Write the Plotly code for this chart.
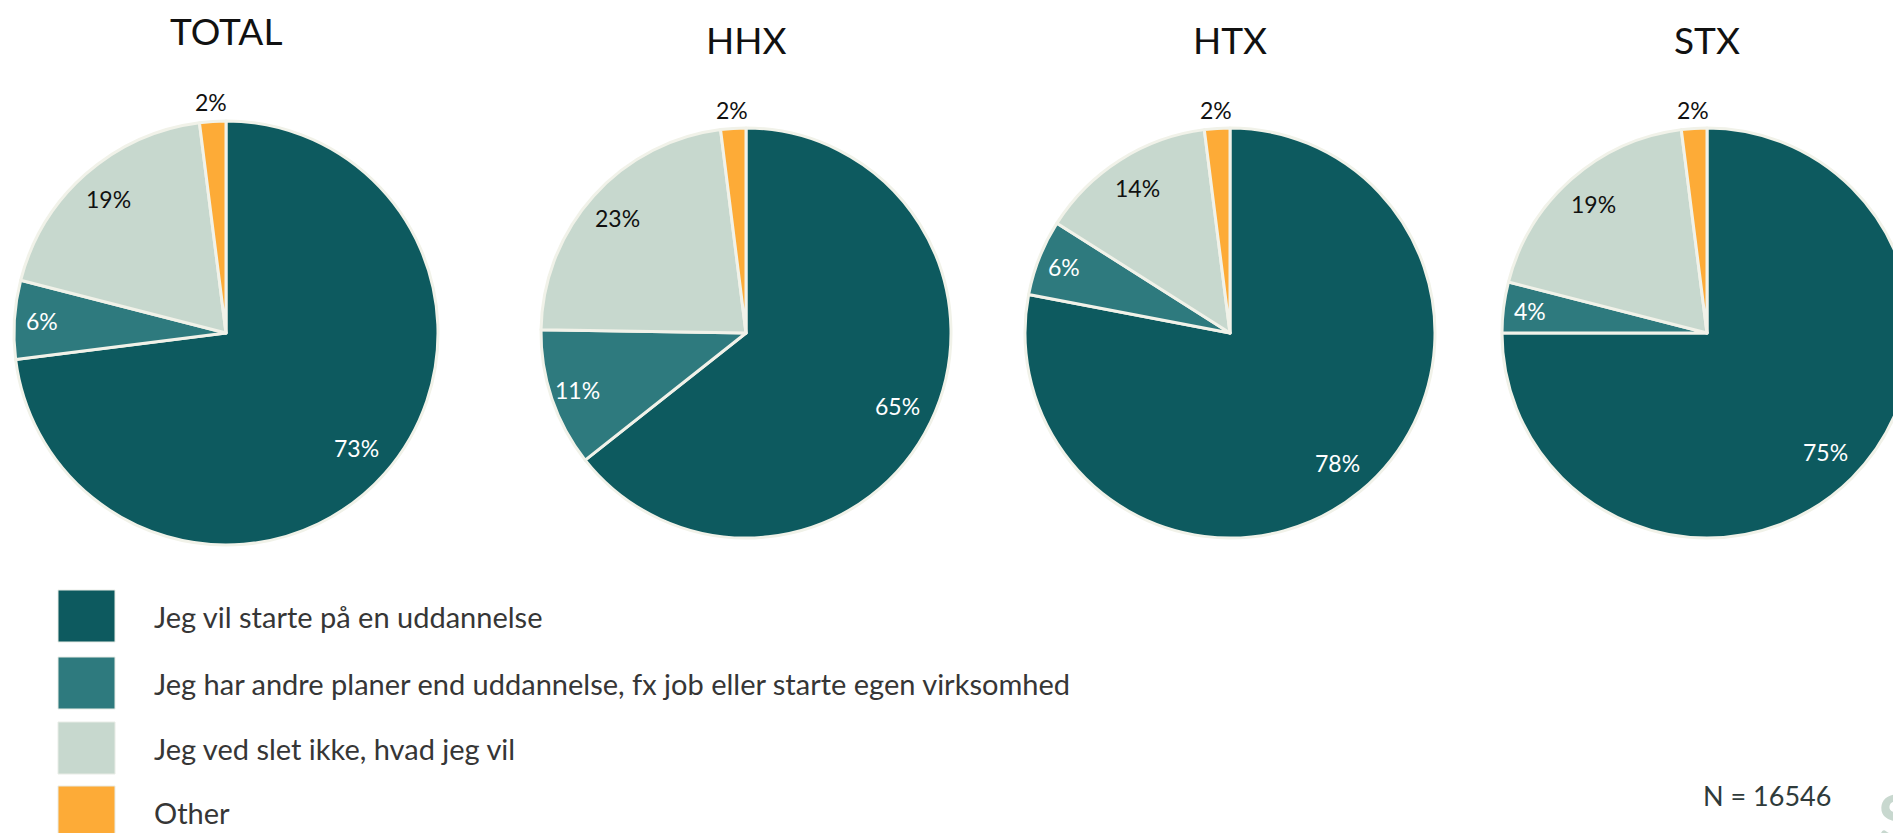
import math
import plotly.graph_objects as go

## Data
categories = [
    "Jeg vil starte på en uddannelse",
    "Jeg har andre planer end uddannelse, fx job eller starte egen virksomhed",
    "Jeg ved slet ikke, hvad jeg vil",
    "Other",
]
groups = ["TOTAL", "HHX", "HTX", "STX"]
total = [73, 6, 19, 2]
hhx = [65, 11, 23, 2]
htx = [78, 6, 14, 2]
stx = [75, 4, 19, 2]
n_text = "N = 16546"

colors = ["#0d5a5f", "#2e7a7e", "#c7d8ce", "#fdab37"]
label_colors = ["white", "white", "#111111", "#111111"]
label_dist = [0.82, 0.87, 0.84, 1.09]  # fraction of radius where the % sits
edge = "#f1f2e9"

## Layout (pixels)
W, H = 1920, 833
centers = [(226, 333), (746, 333), (1230, 333), (1707, 333)]
radii = [212, 205, 205, 205]
title_y = [30, 40, 40, 40]
font = "Lato"

fig = go.Figure()

for name, vals, (cx, cy), r in zip(groups, [total, hhx, htx, stx], centers, radii):
    fig.add_trace(go.Pie(
        labels=categories,
        values=vals,
        textinfo="none",
        sort=False,
        direction="clockwise",
        rotation=0,
        marker=dict(colors=colors, line=dict(color=edge, width=3)),
        domain=dict(x=[(cx - r) / W, (cx + r) / W], y=[1 - (cy + r) / H, 1 - (cy - r) / H]),
        name=name,
        hoverinfo="label+percent",
        showlegend=False,
    ))

    # percentage labels on the slice bisectors
    tot = sum(vals)
    cum = 0
    for v, col, k in zip(vals, label_colors, label_dist):
        theta = 2 * math.pi * (cum + v / 2) / tot
        cum += v
        px = cx + k * r * math.sin(theta)
        py = cy - k * r * math.cos(theta)
        fig.add_annotation(x=px / W, y=1 - py / H, xref="paper", yref="paper",
                           text=f"{v}%", showarrow=False, xanchor="center", yanchor="middle",
                           font=dict(family=font, size=23, color=col))

# group titles
for name, (cx, cy), ty in zip(groups, centers, title_y):
    fig.add_annotation(x=cx / W, y=1 - ty / H, xref="paper", yref="paper",
                       text=name, showarrow=False, xanchor="center", yanchor="middle",
                       font=dict(family=font, size=37, color="#111111"))

# legend drawn by hand (big swatches)
sw_x0, sw_x1 = 58, 115
sw_top = [590, 657, 722, 786]
sw_h = 52
for cat, col, top in zip(categories, colors, sw_top):
    fig.add_shape(type="rect", xref="paper", yref="paper",
                  x0=sw_x0 / W, x1=sw_x1 / W, y0=1 - (top + sw_h) / H, y1=1 - top / H,
                  fillcolor=col, line=dict(color="#e8ece6", width=1))
    fig.add_annotation(x=152 / W, y=1 - (top + 26) / H, xref="paper", yref="paper",
                       text=cat, showarrow=False, xanchor="left", yanchor="middle",
                       font=dict(family=font, size=29, color="#363636"))

fig.add_annotation(x=1767 / W, y=1 - 795 / H, xref="paper", yref="paper",
                   text=n_text, showarrow=False, xanchor="center", yanchor="middle",
                   font=dict(family=font, size=27, color="#2f3b3b"))
fig.add_annotation(x=1876 / W, y=1 - 776 / H, xref="paper", yref="paper",
                   text="<b>S</b>", showarrow=False, xanchor="left", yanchor="top",
                   font=dict(family=font, size=64, color="#c8d8cf"))

fig.update_layout(
    width=W, height=H,
    margin=dict(l=0, r=0, t=0, b=0),
    paper_bgcolor="white",
    plot_bgcolor="white",
)

fig.write_html("out.html", config={"displayModeBar": False},
               post_script="document.body.style.margin='0';document.body.style.overflow='hidden';")
